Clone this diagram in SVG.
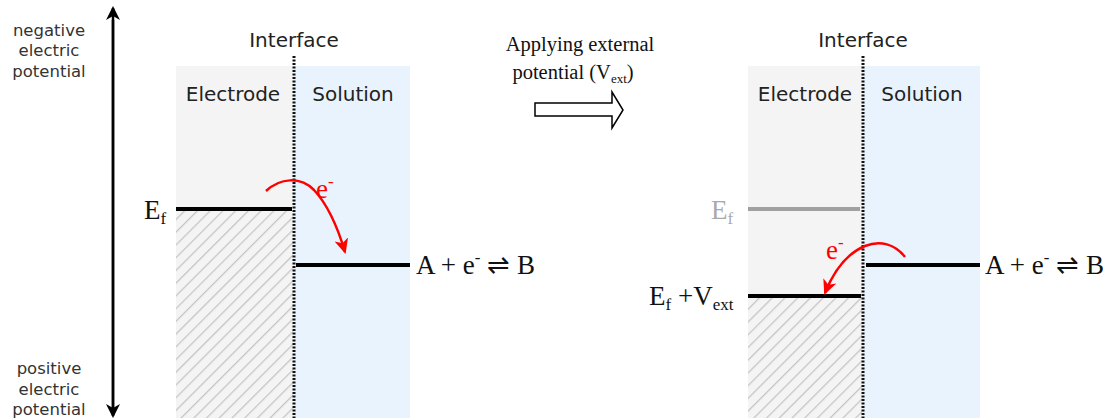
<svg xmlns="http://www.w3.org/2000/svg" width="1108" height="418" viewBox="0 0 1108 418">
<style>
.sans{font-family:"DejaVu Sans","Verdana",sans-serif;fill:#222}
.lab{font-size:16.5px;text-anchor:middle;fill:#333}
.hd{font-size:20px;text-anchor:middle}
.serif{font-family:"Liberation Serif","Times New Roman",serif;fill:#111}
.lvl{stroke:#000;stroke-width:4}
.intf{stroke:#111;stroke-width:3;stroke-dasharray:2 1.5}
.red{fill:none;stroke:#f00;stroke-width:2.5}
</style>
<defs>
<pattern id="hatch" patternUnits="userSpaceOnUse" width="9" height="9" patternTransform="rotate(45)">
<line x1="0" y1="0" x2="0" y2="9" stroke="#c4c4c4" stroke-width="2.5"/>
</pattern>
<marker id="ah" markerWidth="14" markerHeight="16" refX="12" refY="7" orient="auto" markerUnits="userSpaceOnUse" viewBox="0 0 14 14">
<path d="M0,0 L14,7 L0,14 L4,7 Z" fill="#000"/>
</marker>
<marker id="rh" markerWidth="16" markerHeight="16" refX="13" refY="8" orient="auto" markerUnits="userSpaceOnUse" viewBox="0 0 16 16">
<path d="M0,1 L15,8 L0,15 L4,8 Z" fill="#f00"/>
</marker>
</defs>

<g id="axis">
<line x1="113" y1="410" x2="113" y2="8" stroke="#000" stroke-width="2.5" marker-end="url(#ah)"/>
<line x1="113" y1="20" x2="113" y2="416" stroke="#000" stroke-width="2.5" marker-end="url(#ah)"/>
<text class="sans lab" x="49"><tspan x="49" y="36">negative</tspan><tspan x="49" y="56">electric</tspan><tspan x="49" y="77">potential</tspan></text>
<text class="sans lab" x="49"><tspan x="49" y="374">positive</tspan><tspan x="49" y="395">electric</tspan><tspan x="49" y="415">potential</tspan></text>
</g>

<g id="left-panel">
<rect x="176" y="66" width="118" height="352" fill="#f4f4f4"/>
<rect x="294" y="66" width="116" height="352" fill="#e8f3fd"/>
<rect x="176" y="210" width="117" height="208" fill="url(#hatch)"/>
<line class="intf" x1="294" y1="56" x2="294" y2="418"/>
<text class="sans hd" x="294" y="47">Interface</text>
<text class="sans hd" x="233" y="101">Electrode</text>
<text class="sans hd" x="353" y="101">Solution</text>
<line class="lvl" x1="176" y1="209" x2="292" y2="209"/>
<line class="lvl" x1="296" y1="265" x2="410" y2="265"/>
<text class="serif" x="144" y="219" font-size="27">E<tspan font-size="17" dy="5">f</tspan></text>
<text class="serif" x="416" y="274" font-size="27">A + e<tspan font-size="17" dy="-11">-</tspan><tspan dy="11"> ⇌ B</tspan></text>
</g>

<g id="left-transfer">
<path class="red" d="M266,191 C280,178 300,176 314,190 C328,205 337,225 345,252" marker-end="url(#rh)"/>
<text class="serif" x="316" y="198" font-size="27" style="fill:#f00">e<tspan font-size="17" dy="-11">-</tspan></text>
</g>

<g id="transition">
<text class="serif" x="580" y="51" font-size="20.5" text-anchor="middle">Applying external</text>
<text class="serif" x="573" y="79" font-size="20.5" text-anchor="middle">potential (V<tspan font-size="13" dy="4">ext</tspan><tspan dy="-4">)</tspan></text>
<path d="M535,103 L612,103 L612,92 L623,110 L612,128 L612,116 L535,116 Z" fill="#fff" stroke="#000" stroke-width="1.5"/>
</g>

<g id="right-panel">
<rect x="748" y="66" width="115" height="352" fill="#f4f4f4"/>
<rect x="863" y="66" width="117" height="352" fill="#e8f3fd"/>
<rect x="748" y="297" width="114" height="121" fill="url(#hatch)"/>
<line class="intf" x1="863" y1="56" x2="863" y2="418"/>
<text class="sans hd" x="863" y="47">Interface</text>
<text class="sans hd" x="805" y="101">Electrode</text>
<text class="sans hd" x="922" y="101">Solution</text>
<line x1="748" y1="209" x2="860" y2="209" stroke="#a0a0a0" stroke-width="4"/>
<line class="lvl" x1="866" y1="265" x2="980" y2="265"/>
<line class="lvl" x1="748" y1="296" x2="861" y2="296"/>
<text class="serif" x="711" y="219" font-size="27" style="fill:#aaa">E<tspan font-size="17" dy="5">f</tspan></text>
<text class="serif" x="649" y="305" font-size="27">E<tspan font-size="17" dy="5">f</tspan><tspan dy="-5"> +V</tspan><tspan font-size="17" dy="5">ext</tspan></text>
<text class="serif" x="985" y="274" font-size="27">A + e<tspan font-size="17" dy="-11">-</tspan><tspan dy="11"> ⇌ B</tspan></text>
</g>

<g id="right-transfer">
<path class="red" d="M905,257 C895,244 880,240 865,246 C848,253 835,268 825,293" marker-end="url(#rh)"/>
<text class="serif" x="826" y="259" font-size="27" style="fill:#f00">e<tspan font-size="17" dy="-11">-</tspan></text>
</g>
</svg>
